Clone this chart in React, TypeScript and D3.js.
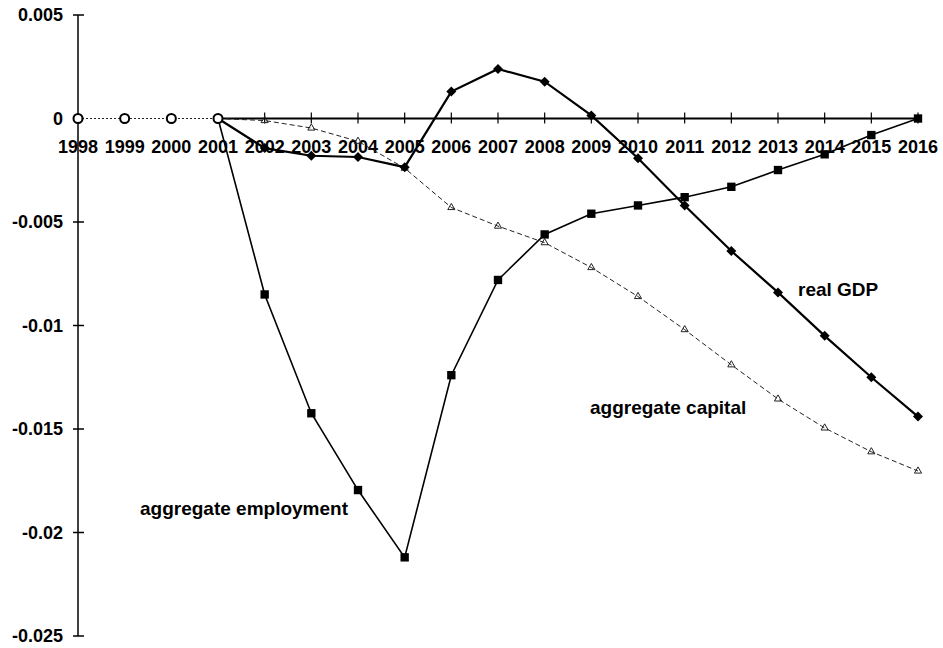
import React from "react";
import * as d3 from "d3";

const years = ["1998","1999","2000","2001","2002","2003","2004","2005","2006","2007","2008","2009","2010","2011","2012","2013","2014","2015","2016"];
const realGDP = [0,0,0,0,-0.00143,-0.0018,-0.00186,-0.00235,0.0013,0.00239,0.00178,0.00015,-0.00192,-0.0042,-0.0064,-0.0084,-0.0105,-0.0125,-0.0144];
const employment = [0,0,0,0,-0.0085,-0.01424,-0.01795,-0.0212,-0.0124,-0.0078,-0.0056,-0.0046,-0.0042,-0.0038,-0.0033,-0.00249,-0.00173,-0.0008,0];
const capital = [0,0,0,0,-0.0001,-0.00046,-0.0011,-0.0024,-0.0043,-0.0052,-0.006,-0.0072,-0.0086,-0.0102,-0.0119,-0.01355,-0.01495,-0.0161,-0.01703];
const yTicks = [0.005,0,-0.005,-0.01,-0.015,-0.02,-0.025];
const yTickLabels = ["0.005","0","-0.005","-0.01","-0.015","-0.02","-0.025"];

const W = 943, H = 648;
const FONT = "'Liberation Sans', Arial, sans-serif";

export default function App() {
  const x = d3.scalePoint<string>().domain(years).range([78, 918]);
  const y = d3.scaleLinear().domain([-0.025, 0.005]).range([636, 15]);
  const line = d3.line<number>().x((_, i) => x(years[i])!).y(d => y(d));
  const splitIdx = 3;
  const capEarly = capital.slice(0, splitIdx + 1);
  const capLate = capital.slice(splitIdx);
  const lineLate = d3.line<number>().x((_, i) => x(years[i + splitIdx])!).y(d => y(d));
  const diamond = d3.symbol().type(d3.symbolSquare).size(50)()!;
  const square = d3.symbol().type(d3.symbolSquare).size(70)()!;
  const tri = d3.symbol().type(d3.symbolTriangle).size(22)()!;
  const y0 = y(0);

  return (
    <svg width={W} height={H} style={{ position: "absolute", left: 0, top: 0, background: "#fff" }} fontFamily={FONT}>
      {/* y axis */}
      <line x1={78} x2={78} y1={y(0.005)} y2={y(-0.025)} stroke="#000" strokeWidth={1.5} />
      {yTicks.map((t, i) => (
        <g key={i}>
          <line x1={73} x2={84} y1={y(t)} y2={y(t)} stroke="#000" strokeWidth={1.5} />
          <text x={63} y={y(t)} dy="0.35em" textAnchor="end" fontSize={18} fontWeight="bold">{yTickLabels[i]}</text>
        </g>
      ))}
      {/* x axis */}
      <line x1={x("2001")!} x2={x("2016")!} y1={y0} y2={y0} stroke="#000" strokeWidth={2} />
      {years.map((yr) => (
        <g key={yr}>
          {+yr > 2001 && <line x1={x(yr)!} x2={x(yr)!} y1={y0 - 6} y2={y0 + 5} stroke="#000" strokeWidth={1.2} />}
          <text x={x(yr)!} y={153} textAnchor="middle" fontSize={18} fontWeight="bold">{yr}</text>
        </g>
      ))}
      {/* capital */}
      <path d={line(capEarly)!} fill="none" stroke="#222" strokeWidth={1.2} strokeDasharray="2,2" />
      <path d={lineLate(capLate)!} fill="none" stroke="#222" strokeWidth={1} strokeDasharray="5,3" />
      {capital.map((v, i) => i > splitIdx && (
        <path key={i} d={tri} transform={`translate(${x(years[i])},${y(v)})`} fill="none" stroke="#222" strokeWidth={1} />
      ))}
      {/* employment */}
      <path d={lineLate(employment.slice(splitIdx))!} fill="none" stroke="#000" strokeWidth={1.6} />
      {employment.map((v, i) => i > splitIdx && (
        <path key={i} d={square} transform={`translate(${x(years[i])},${y(v)})`} fill="#000" />
      ))}
      {/* real GDP */}
      <path d={lineLate(realGDP.slice(splitIdx))!} fill="none" stroke="#000" strokeWidth={2.2} />
      {realGDP.map((v, i) => i > splitIdx && (
        <path key={i} d={diamond} transform={`translate(${x(years[i])},${y(v)}) rotate(45)`} fill="#000" />
      ))}
      {/* coincident early points */}
      {years.slice(0, splitIdx + 1).map((yr, i) => (
        <circle key={yr} cx={x(yr)!} cy={y(realGDP[i])} r={4.5} fill="#fff" stroke="#000" strokeWidth={2} />
      ))}
      {/* labels */}
      <text x={798} y={296} fontSize={19} fontWeight="bold">real GDP</text>
      <text x={590} y={414} fontSize={19} fontWeight="bold">aggregate capital</text>
      <text x={140} y={515} fontSize={19} fontWeight="bold">aggregate employment</text>
    </svg>
  );
}
